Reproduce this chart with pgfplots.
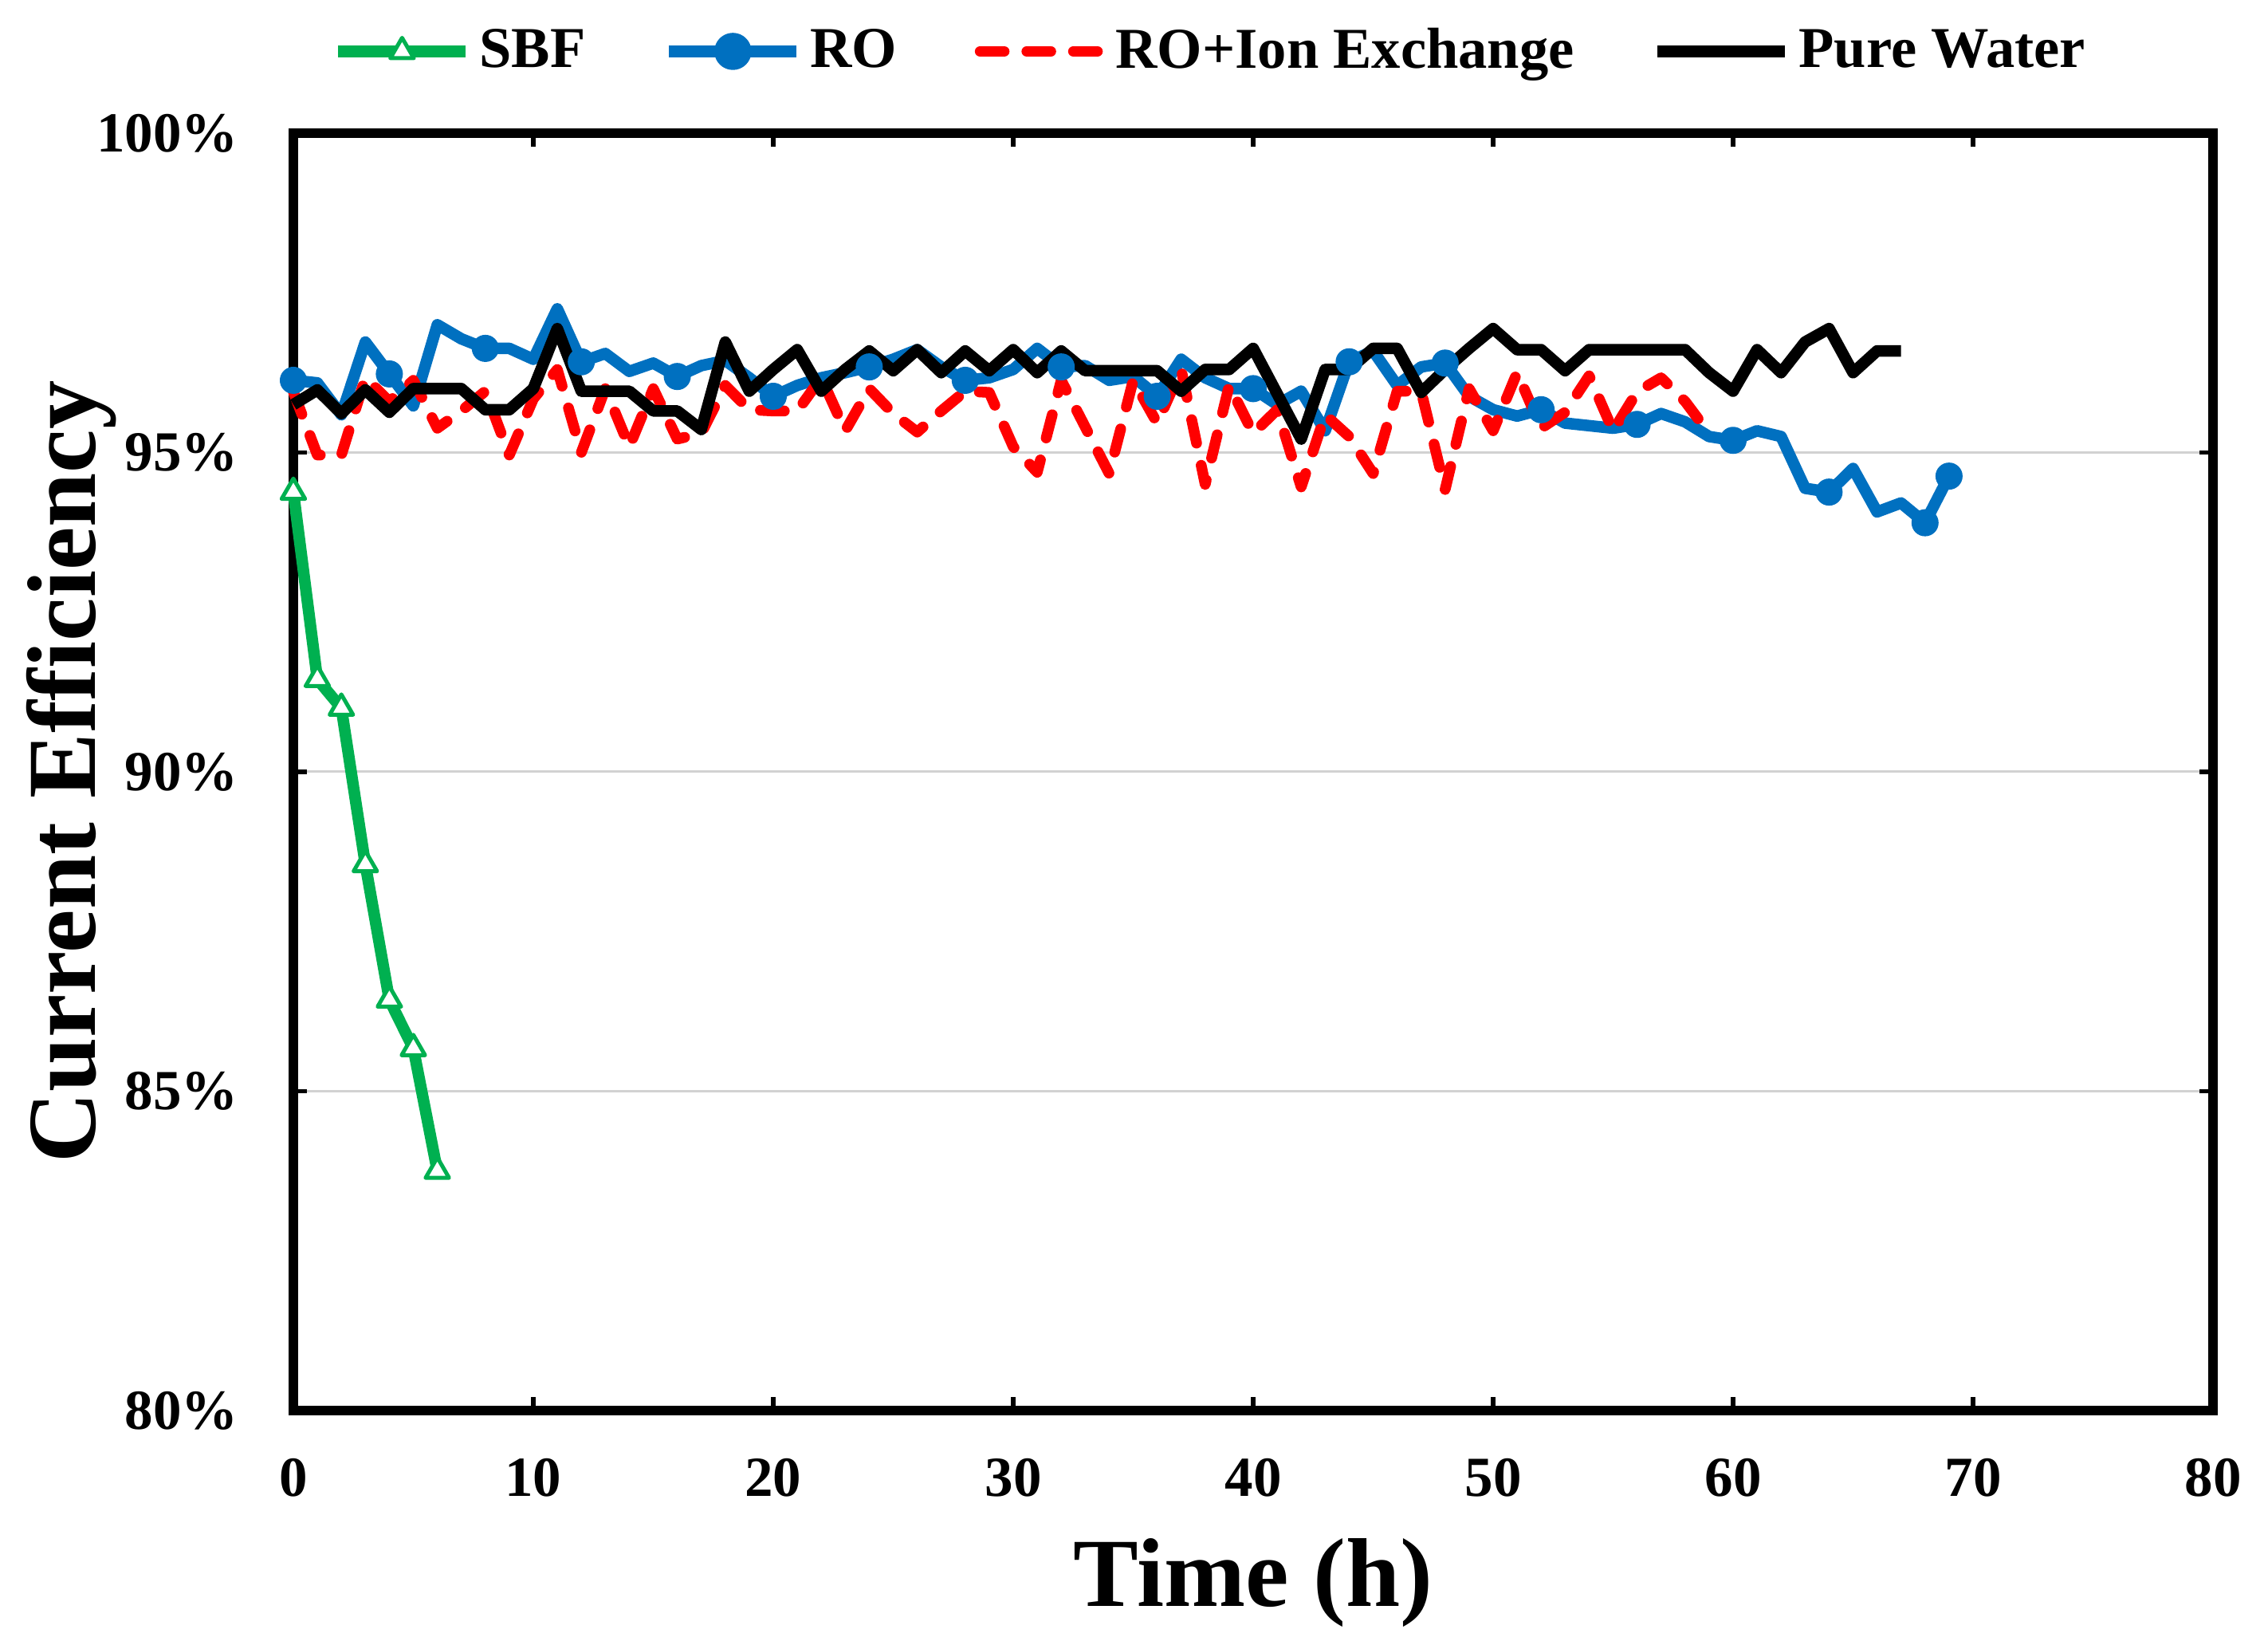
\documentclass[border=0pt]{standalone}
\usepackage{fontspec}
\setmainfont{Liberation Serif}
\usepackage{pgfplots}
\pgfplotsset{compat=1.18}
\definecolor{sbfgreen}{RGB}{0,176,80}
\definecolor{roblue}{RGB}{0,112,192}
\begin{document}
\begin{tikzpicture}
\useasboundingbox (-73.6pt,-57.6pt) rectangle (495.4pt,353.8pt);
\begin{axis}[
  scale only axis, width=481.6pt, height=320.4pt,
  xmin=0, xmax=80, ymin=80, ymax=100,
  xtick={0,10,...,80}, ytick={80,85,...,100},
  xticklabels={0,10,20,30,40,50,60,70,80},
  yticklabels={80\%,85\%,90\%,95\%,100\%},
  tick align=inside, major tick length=3.4pt,
  tick style={black, line width=1.1pt},
  axis line style={line width=2.3pt},
  ymajorgrids, grid style={gray!35, line width=0.6pt},
  clip=false,
  /pgf/number format/assume math mode=true,
  tick label style={font=\bfseries\fontsize{14.2}{17}\selectfont},
  xticklabel style={anchor=north, inner sep=0pt, yshift=-11.8pt},
  yticklabel style={anchor=east, inner sep=0pt, xshift=-13.6pt},
  xlabel={Time (h)},
  ylabel={Current Efficiency},
  xlabel style={at={(axis description cs:0.5,-0.153)}, anchor=base, font=\bfseries\fontsize{24.5}{28}\selectfont},
  ylabel style={at={(axis description cs:-0.103,0.5)}, anchor=base, font=\bfseries\fontsize{24.5}{28}\selectfont},
  legend columns=4,
  legend style={draw=none, fill=none, at={(0.479,1.064)}, anchor=center,
    font=\bfseries\fontsize{14.5}{17}\selectfont,
    /tikz/every even column/.append style={column sep=17.5pt},
    nodes={inner sep=2pt}},
  every axis plot/.append style={line join=round},
]
% SBF
\addplot[color=sbfgreen, line width=2.9pt, mark=triangle*, mark size=3.4pt,
  mark options={fill=white, line width=1pt, solid},
  legend image code/.code={\draw[sbfgreen, line width=2.9pt] (0pt,0pt) -- (32pt,0pt);
    \draw[sbfgreen, fill=white, line width=1pt] plot[mark=triangle*, mark size=3.4pt] coordinates {(16pt,0pt)};}]
coordinates {(0,94.38) (1,91.45) (2,91.0) (3,88.55) (4,86.43) (5,85.67) (6,83.75)};
\addlegendentry{SBF}
% RO
\addplot[color=roblue, line width=2.9pt,
  legend image code/.code={\draw[roblue, line width=2.9pt] (0pt,0pt) -- (32pt,0pt); \fill[roblue] (16pt,0pt) circle (3.2pt);}]
coordinates {
(0,96.13) (1,96.09) (2,95.59) (3,96.73) (4,96.23) (5,95.73) (6,97.0) (7,96.78) (8,96.63) (9,96.63)
(10,96.46) (11,97.25) (12,96.42) (13,96.55) (14,96.27) (15,96.40) (16,96.19) (17,96.36) (18,96.44) (19,96.17)
(20,95.88) (21,96.05) (22,96.17) (23,96.25) (24,96.34) (25,96.46) (26,96.61) (27,96.34) (28,96.13) (29,96.17)
(30,96.30) (31,96.63) (32,96.34) (33,96.36) (34,96.13) (35,96.19) (36,95.88) (37,96.46) (38,96.17) (39,96.0)
(40,96.0) (41,95.75) (42,95.96) (43,95.34) (44,96.42) (45,96.59) (46,96.05) (47,96.34) (48,96.40) (49,95.88)
(50,95.67) (51,95.57) (52,95.67) (53,95.46) (54,95.42) (55,95.38) (56,95.44) (57,95.61) (58,95.48) (59,95.25)
(60,95.19) (61,95.34) (62,95.25) (63,94.44) (64,94.38) (65,94.75) (66,94.07) (67,94.21) (68,93.90) (69,94.63)};
\addlegendentry{RO}
% RO + Ion Exchange
\addplot[color=red, line width=2.7pt, line cap=round, dash pattern=on 6pt off 5.7pt,
  legend image code/.code={\draw[red, line width=2.7pt, line cap=round, dash pattern=on 6pt off 5.7pt] (1.35pt,0pt) -- (32pt,0pt);}]
coordinates {
(0,95.95) (1,94.96) (2,94.96) (3,96.17) (4,95.80) (5,96.13) (6,95.38) (7,95.65) (8,95.96) (9,94.96)
(10,95.84) (11,96.30) (12,95.0) (13,96.0) (14,95.09) (15,96.0) (16,95.21) (17,95.30) (18,96.05) (19,95.67)
(20,95.65) (21,95.65) (22,96.17) (23,95.34) (24,96.0) (25,95.61) (26,95.32) (27,95.65) (28,95.96) (29,95.94)
(30,95.09) (31,94.69) (32,96.13) (33,95.40) (34,94.67) (35,96.13) (36,95.46) (37,96.30) (38,94.50) (39,96.05)
(40,95.30) (41,95.67) (42,94.46) (43,95.59) (44,95.25) (45,94.67) (46,95.96) (47,95.96) (48,94.42) (49,96.0)
(50,95.34) (51,96.25) (52,95.38) (53,95.63) (54,96.20) (55,95.34) (56,95.95) (57,96.17) (58,95.80) (59,95.30)};
\addlegendentry{RO+Ion Exchange}
% Pure Water
\addplot[color=black, line width=2.9pt,
  legend image code/.code={\draw[black, line width=2.9pt] (0pt,0pt) -- (32pt,0pt);}]
coordinates {
(0,95.75) (1,95.98) (2,95.61) (3,95.98) (4,95.63) (5,96.0) (6,96.0) (7,96.0) (8,95.67) (9,95.67)
(10,96.0) (11,96.94) (12,95.96) (13,95.96) (14,95.96) (15,95.65) (16,95.65) (17,95.36) (18,96.73) (19,95.96)
(20,96.30) (21,96.61) (22,95.96) (23,96.30) (24,96.59) (25,96.28) (26,96.61) (27,96.25) (28,96.59) (29,96.28)
(30,96.61) (31,96.25) (32,96.59) (33,96.28) (34,96.28) (35,96.28) (36,96.28) (37,95.96) (38,96.30) (39,96.30)
(40,96.63) (41,95.92) (42,95.21) (43,96.30) (44,96.30) (45,96.63) (46,96.63) (47,95.94) (48,96.30) (49,96.63)
(50,96.94) (51,96.61) (52,96.61) (53,96.28) (54,96.61) (55,96.61) (56,96.61) (57,96.61) (58,96.61) (59,96.25)
(60,95.96) (61,96.61) (62,96.25) (63,96.73) (64,96.94) (65,96.25) (66,96.59) (67,96.59)};
\addlegendentry{Pure Water}
% RO markers (every 4 h and last point)
\addplot[only marks, mark=*, color=roblue, mark size=3.2pt, forget plot]
coordinates {
(0,96.13) (4,96.23) (8,96.63) (12,96.42) (16,96.19) (20,95.88) (24,96.34) (28,96.13) (32,96.34) (36,95.88)
(40,96.0) (44,96.42) (48,96.40) (52,95.67) (56,95.44) (60,95.19) (64,94.38) (68,93.90) (69,94.63)};
\end{axis}
\end{tikzpicture}
\end{document}
